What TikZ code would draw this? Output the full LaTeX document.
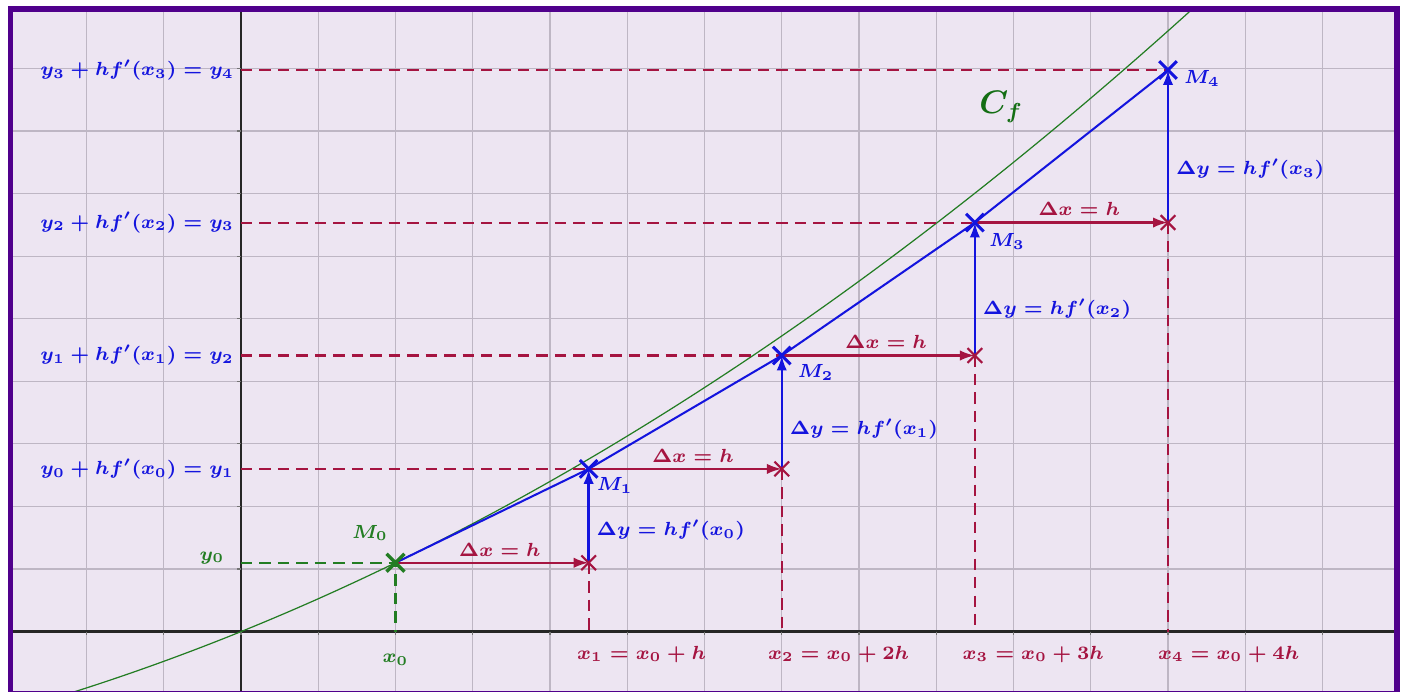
\documentclass[tikz,border=0pt]{standalone}
\usepackage{amsmath}
\usetikzlibrary{arrows.meta,shapes.misc,calc}
\definecolor{bgc}{RGB}{237,229,242}
\definecolor{gridc}{RGB}{190,182,196}
\definecolor{framec}{RGB}{80,0,140}
\definecolor{redc}{RGB}{165,20,65}
\definecolor{bluec}{RGB}{20,20,222}
\definecolor{greenc}{RGB}{35,125,35}
\definecolor{dgreenc}{RGB}{20,110,20}
\begin{document}
\begin{tikzpicture}[x=1cm,y=0.81cm,
  lbl/.style={font=\fontsize{7.4}{9}\selectfont\boldmath, inner sep=1pt},
  bx/.style={cross out, draw=bluec, line width=1.1pt, minimum size=5.4pt, inner sep=0pt},
  rx/.style={cross out, draw=redc, line width=0.8pt, minimum size=4.6pt, inner sep=0pt},
  gx/.style={cross out, draw=greenc, line width=1.2pt, minimum size=5.4pt, inner sep=0pt},
  rdash/.style={draw=redc, line width=0.75pt, dash pattern=on 4.2pt off 2.6pt},
  gdash/.style={draw=greenc, line width=0.75pt, dash pattern=on 4.2pt off 2.6pt},
  rarrow/.style={draw=redc, line width=0.9pt, -{Latex[length=5.5pt,width=3.8pt]}},
  barrow/.style={draw=bluec, line width=0.9pt, -{Latex[length=5.5pt,width=3.8pt]}},
  dxl/.style={lbl, text=redc, midway, above=1pt, xshift=0.1cm},
  dyl/.style={lbl, text=bluec, pos=0.35, anchor=west, xshift=1.5pt},
  ylab/.style={lbl, text=bluec, anchor=east},
  xlab/.style={lbl, text=redc, anchor=west},
  mlab/.style={lbl, text=bluec}
]
\useasboundingbox (-3.12,-0.9636) rectangle (15.042,10.094);
\fill[bgc] (-3,-1) rectangle (14.965,9.95);
\begin{scope}
  \clip (-3,-1) rectangle (14.965,9.95);
  \foreach \i in {-3,...,15} \draw[gridc, line width=0.4pt] (\i,-1) -- (\i,10);
  \foreach \j in {-1,...,10} \draw[gridc, line width=0.4pt] (-3,\j) -- (15,\j);
  \draw[black!85, line width=0.9pt] (-3,0) -- (15,0);
  \draw[black!85, line width=0.9pt] (0,-1) -- (0,10);
  \foreach \i in {-2,...,14} \draw[black!55, line width=0.4pt] (\i,0) -- (\i,-0.06);
  \foreach \j in {1,...,9} \draw[black!55, line width=0.4pt] (0,\j) -- (-0.05,\j);
  \draw[greenc, line width=0.45pt, domain=-3:12.6, samples=120] plot (\x, {\x/2+\x*\x/40});
\end{scope}
\draw[framec, line width=1.9pt] (-2.985,-0.995) rectangle (14.965,9.95);

% points
\coordinate (M0) at (2,1.1);
\coordinate (M1) at (4.5,2.6);
\coordinate (M2) at (7,4.4125);
\coordinate (M3) at (9.5,6.5375);
\coordinate (M4) at (12,8.975);
\coordinate (P1) at (4.5,1.1);
\coordinate (P2) at (7,2.6);
\coordinate (P3) at (9.5,4.4125);
\coordinate (P4) at (12,6.5375);
\coordinate (X0) at (2,0);
\coordinate (X1) at (4.5,0);
\coordinate (X2) at (7,0);
\coordinate (X3) at (9.5,0);
\coordinate (X4) at (12,0);
\coordinate (Y0) at (0,1.1);
\coordinate (Y1) at (0,2.6);
\coordinate (Y2) at (0,4.4125);
\coordinate (Y3) at (0,6.5375);
\coordinate (Y4) at (0,8.975);

% dashed guides
\draw[gdash] (Y0) -- (M0) -- (X0);
\draw[rdash] (Y1) -- (M1);
\draw[rdash] (Y2) -- (M2);
\draw[rdash] (Y3) -- (M3);
\draw[rdash] (Y4) -- (M4);
\draw[rdash] (P1) -- (X1);
\draw[rdash] (P2) -- (X2);
\draw[rdash] (P3) -- (X3);
\draw[rdash] (P4) -- (X4);

% Euler polyline
\draw[bluec, line width=0.75pt] (M0) -- (M1) -- (M2) -- (M3) -- (M4);

% steps
\draw[rarrow] (M0) -- node[dxl]{$\Delta x=h$} (P1);
\draw[rarrow] (M1) -- node[dxl]{$\Delta x=h$} (P2);
\draw[rarrow] (M2) -- node[dxl]{$\Delta x=h$} (P3);
\draw[rarrow] (M3) -- node[dxl]{$\Delta x=h$} (P4);
\draw[barrow] (P1) -- node[dyl]{$\Delta y=hf'(x_0)$} (M1);
\draw[barrow] (P2) -- node[dyl]{$\Delta y=hf'(x_1)$} (M2);
\draw[barrow] (P3) -- node[dyl]{$\Delta y=hf'(x_2)$} (M3);
\draw[barrow] (P4) -- node[dyl]{$\Delta y=hf'(x_3)$} (M4);

% crosses
\node[gx] (cM0) at (M0) {};
\node[bx] (cM1) at (M1) {};
\node[bx] (cM2) at (M2) {};
\node[bx] (cM3) at (M3) {};
\node[bx] (cM4) at (M4) {};
\node[rx] (cP1) at (P1) {};
\node[rx] (cP2) at (P2) {};
\node[rx] (cP3) at (P3) {};
\node[rx] (cP4) at (P4) {};

% labels
\node[lbl, text=greenc] (lM0) at ($(M0)+(-0.33,0.475)$) {$M_0$};
\node[mlab] (lM1) at ($(M1)+(0.337,-0.27)$) {$M_1$};
\node[mlab] (lM2) at ($(M2)+(0.44,-0.27)$) {$M_2$};
\node[mlab] (lM3) at ($(M3)+(0.414,-0.30)$) {$M_3$};
\node[mlab] (lM4) at ($(M4)+(0.44,-0.13)$) {$M_4$};

\node[ylab] (lY1) at (-0.05,2.6) {$y_0+hf'(x_0)=y_1$};
\node[ylab] (lY2) at (-0.05,4.4125) {$y_1+hf'(x_1)=y_2$};
\node[ylab] (lY3) at (-0.05,6.5375) {$y_2+hf'(x_2)=y_3$};
\node[ylab] (lY4) at (-0.05,8.975) {$y_3+hf'(x_3)=y_4$};
\node[lbl, text=greenc, anchor=east] (lY0) at (-0.175,1.18) {$y_0$};
\node[lbl, text=greenc] (lX0) at (2,-0.45) {$x_0$};

\node[xlab] (lX1) at (4.31,-0.36) {$x_1=x_0+h$};
\node[xlab] (lX2) at (6.78,-0.36) {$x_2=x_0+2h$};
\node[xlab] (lX3) at (9.30,-0.36) {$x_3=x_0+3h$};
\node[xlab] (lX4) at (11.83,-0.36) {$x_4=x_0+4h$};

\node[font=\fontsize{12}{14}\selectfont\boldmath, text=dgreenc] (Cf) at (9.84,8.385) {$C_f$};
\end{tikzpicture}
\end{document}
